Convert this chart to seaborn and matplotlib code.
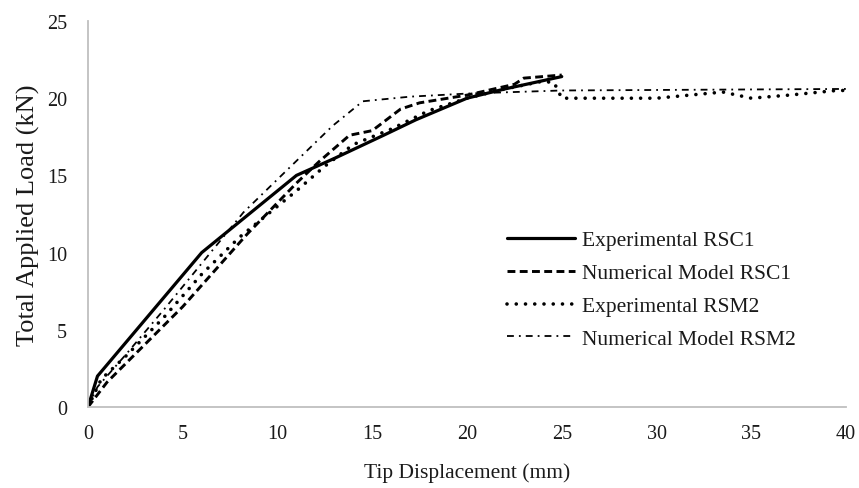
import matplotlib
matplotlib.use("Agg")
import matplotlib.pyplot as plt
import seaborn as sns
import pandas as pd

# Load-displacement curves (displacement in mm, load in kN)
exp_rsc1_x = [0, 0.5, 6, 11, 13, 15.6, 17.3, 20, 22, 25]
exp_rsc1_y = [0, 2.0, 10, 15, 16.1, 17.6, 18.6, 20.0, 20.6, 21.4]

num_rsc1_x = [0, 1.0, 5, 8.4, 11, 12.2, 13.8, 15, 16.5, 17.5, 20, 22.5, 23, 25]
num_rsc1_y = [0, 1.6, 6.5, 11.2, 14.5, 15.9, 17.6, 17.9, 19.3, 19.7, 20.2, 20.9, 21.3, 21.5]

exp_rsm2_x = [0, 0.7, 2, 4, 6, 8, 11, 12.5, 14, 16, 18, 20, 22, 24, 24.6, 25, 30, 33.5, 35, 37, 39.5, 40]
exp_rsm2_y = [0, 1.8, 3.3, 5.8, 8.6, 11.0, 14.0, 15.6, 17.0, 18.0, 19.2, 20.0, 20.6, 21.1, 21.0, 20.0, 20.0, 20.4, 20.0, 20.2, 20.5, 20.5]

num_rsm2_x = [0, 0.5, 2, 4, 6, 8.2, 10.8, 12.9, 14.5, 17, 20, 25, 40]
num_rsm2_y = [0, 1.3, 3.4, 6.3, 9.3, 12.6, 15.7, 18.2, 19.8, 20.1, 20.3, 20.5, 20.6]

labels = ["Experimental RSC1", "Numerical Model RSC1",
          "Experimental RSM2", "Numerical Model RSM2"]

x_ticks = [0, 5, 10, 15, 20, 25, 30, 35, 40]
y_ticks = [0, 5, 10, 15, 20, 25]

sns.set_theme(style="white")
plt.rcParams["font.family"] = ["Liberation Serif", "DejaVu Serif"]

W, H = 859, 489
fig = plt.figure(figsize=(W / 100, H / 100), dpi=100)
ax = fig.add_axes([88 / W, 1 - 408 / H, 758 / W, 386 / H])

series = [
    (exp_rsc1_x, exp_rsc1_y, dict(lw=2.3, linestyle="-")),
    (num_rsc1_x, num_rsc1_y, dict(lw=2.1, linestyle=(0, (2.7, 1.5)))),
    (exp_rsm2_x, exp_rsm2_y, dict(lw=2.6, linestyle=(0, (0.01, 2.55)),
                                  dash_capstyle="round")),
    (num_rsm2_x, num_rsm2_y, dict(lw=1.3, linestyle=(0, (3.8, 2.8, 1.0, 2.8)))),
]

for (xs, ys, style), lab in zip(series, labels):
    df = pd.DataFrame({"x": xs, "y": ys})
    sns.lineplot(data=df, x="x", y="y", ax=ax, color="black", sort=False,
                 label=lab, estimator=None, **style)

txt = "#1a1a1a"
ax.set_xlim(0, 40)
ax.set_ylim(0, 25)
ax.set_xticks(x_ticks)
ax.set_yticks(y_ticks)
ax.tick_params(axis="both", labelsize=14.5, colors=txt, length=0)
ax.tick_params(axis="y", pad=15)
ax.tick_params(axis="x", pad=12)
for s in ["top", "right"]:
    ax.spines[s].set_visible(False)
for s in ["left", "bottom"]:
    ax.spines[s].set_color("#bfbfbf")
    ax.spines[s].set_linewidth(1.3)
ax.grid(False)

ax.set_xlabel("Tip Displacement (mm)", fontsize=15.5, color=txt, labelpad=14)
ax.set_ylabel("Total Applied Load (kN)", fontsize=19, color=txt, labelpad=5)

leg = ax.legend(loc="upper left", bbox_to_anchor=(507 / W, 1 - 231 / H),
                bbox_transform=fig.transFigure, frameon=False,
                fontsize=15.5, handlelength=3.16, handletextpad=0.33,
                labelspacing=0.6, borderpad=0, borderaxespad=0)
for t in leg.get_texts():
    t.set_color(txt)

fig.savefig("out.png", dpi=100)
